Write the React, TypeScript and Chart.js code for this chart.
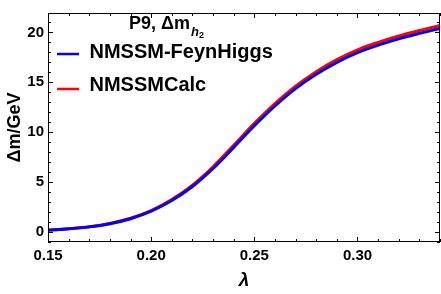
import React, { useEffect, useRef } from 'react';
import { Chart, registerables } from 'chart.js';

Chart.register(...registerables);

// ---- data ----
const lambdaValues = [0.15, 0.16, 0.17, 0.18, 0.19, 0.20, 0.21, 0.22, 0.23, 0.24, 0.25, 0.26, 0.27, 0.28, 0.29, 0.30, 0.31, 0.32, 0.33, 0.34];
const nmssmCalc = [0.15, 0.28, 0.48, 0.81, 1.33, 2.11, 3.21, 4.66, 6.51, 8.66, 10.86, 12.86, 14.61, 16.06, 17.26, 18.25, 19.0, 19.65, 20.2, 20.7];
const feynHiggs = [0.15, 0.28, 0.47, 0.79, 1.29, 2.04, 3.11, 4.52, 6.33, 8.45, 10.62, 12.61, 14.35, 15.79, 16.99, 17.97, 18.72, 19.36, 19.9, 20.4];
const xTickValues = [0.15, 0.2, 0.25, 0.3];
const yTickValues = [0, 5, 10, 15, 20];
const seriesNames = ['NMSSM-FeynHiggs', 'NMSSMCalc'];
const legendTitle = 'P9, Δm';
const legendTitleSub = 'h';
const legendTitleSubSub = '2';
const xTitle = 'λ';
const yTitle = 'Δm/GeV';

const FONT = '"Liberation Sans", Arial, Helvetica, sans-serif';
const BLUE = '#0000ff';
const RED = '#ff0000';

const framePlugin = {
  id: 'frameTicks',
  afterDatasetsDraw(chart: any) {
    const { ctx, chartArea: a, scales } = chart;
    const xs = scales.x;
    const ys = scales.y;
    ctx.save();
    ctx.strokeStyle = '#000';
    ctx.lineWidth = 1;
    // frame
    ctx.strokeRect(Math.round(a.left) + 0.5, Math.round(a.top) + 0.5, Math.round(a.right - a.left) - 1, Math.round(a.bottom - a.top) - 1);
    ctx.beginPath();
    // x ticks (bottom/top), inward
    for (let i = 0; i <= 19; i++) {
      const v = 0.15 + i * 0.01;
      const major = i % 5 === 0;
      const len = major ? 5 : 3;
      const px = Math.round(xs.getPixelForValue(v)) + 0.5;
      ctx.moveTo(px, a.bottom);
      ctx.lineTo(px, a.bottom - len);
      ctx.moveTo(px, a.top);
      ctx.lineTo(px, a.top + len);
    }
    for (let v = -1; v <= 21; v++) {
      const major = v % 5 === 0;
      const len = major ? 5 : 3;
      const py = Math.round(ys.getPixelForValue(v)) + 0.5;
      ctx.moveTo(a.left, py);
      ctx.lineTo(a.left + len, py);
      ctx.moveTo(a.right, py);
      ctx.lineTo(a.right - len, py);
    }
    ctx.stroke();

    // legend
    ctx.fillStyle = '#000';
    ctx.textBaseline = 'alphabetic';
    ctx.textAlign = 'left';
    ctx.font = `bold 18px ${FONT}`;
    ctx.fillText(legendTitle, 129, 29);
    const w = ctx.measureText(legendTitle).width;
    ctx.font = `italic bold 13px ${FONT}`;
    ctx.fillText(legendTitleSub, 129 + w + 1, 36);
    const w2 = ctx.measureText(legendTitleSub).width;
    ctx.font = `bold 9px ${FONT}`;
    ctx.fillText(legendTitleSubSub, 129 + w + 1 + w2, 38);

    const items = [
      { name: seriesNames[0], color: BLUE, lineY: 54, textY: 58 },
      { name: seriesNames[1], color: RED, lineY: 89, textY: 91 },
    ];
    for (const it of items) {
      ctx.strokeStyle = it.color;
      ctx.lineWidth = 2.5;
      ctx.beginPath();
      ctx.moveTo(57, it.lineY);
      ctx.lineTo(79, it.lineY);
      ctx.stroke();
      ctx.font = `bold 20px ${FONT}`;
      ctx.fillStyle = '#000';
      ctx.fillText(it.name, 89.5, it.textY);
    }
    ctx.restore();
  },
};

export default function App() {
  const canvasRef = useRef<HTMLCanvasElement | null>(null);

  useEffect(() => {
    const canvas = canvasRef.current;
    if (!canvas) return;
    const chart = new Chart(canvas, {
      type: 'line',
      data: {
        datasets: [
          {
            label: seriesNames[0],
            data: lambdaValues.map((x, i) => ({ x, y: feynHiggs[i] })),
            borderColor: BLUE,
            borderWidth: 3,
            pointRadius: 0,
            cubicInterpolationMode: 'monotone',
            fill: false,
          },
          {
            label: seriesNames[1],
            data: lambdaValues.map((x, i) => ({ x, y: nmssmCalc[i] })),
            borderColor: RED,
            borderWidth: 3,
            pointRadius: 0,
            cubicInterpolationMode: 'monotone',
            fill: false,
          },
        ],
      },
      options: {
        responsive: false,
        animation: false,
        events: [],
        layout: { padding: { top: 1, right: 1, left: 0, bottom: 0 } },
        plugins: {
          legend: { display: false },
          tooltip: { enabled: false },
          title: { display: false },
        },
        scales: {
          x: {
            type: 'linear',
            min: 0.15,
            max: 0.34,
            afterBuildTicks: (s: any) => {
              s.ticks = xTickValues.map((v) => ({ value: v }));
            },
            afterFit: (s: any) => {
              s.height = 52;
            },
            grid: { display: false, drawTicks: false },
            border: { display: false },
            ticks: {
              autoSkip: false,
              maxRotation: 0,
              padding: 5,
              color: '#000',
              font: { family: FONT, size: 15, weight: 'bold' },
              callback: (v: any) => Number(v).toFixed(2),
            },
            title: {
              display: true,
              text: xTitle,
              color: '#000',
              font: { family: FONT, size: 19, weight: 'bold', style: 'italic' },
              padding: { top: 0, bottom: 2 },
            },
          },
          y: {
            type: 'linear',
            min: -1.05,
            max: 21.95,
            afterBuildTicks: (s: any) => {
              s.ticks = yTickValues.map((v) => ({ value: v }));
            },
            afterFit: (s: any) => {
              s.width = 48;
            },
            grid: { display: false, drawTicks: false },
            border: { display: false },
            ticks: {
              padding: 4,
              color: '#000',
              font: { family: FONT, size: 15, weight: 'bold' },
              callback: (v: any) => String(v),
            },
            title: {
              display: true,
              text: yTitle,
              color: '#000',
              font: { family: FONT, size: 18, weight: 'bold' },
              padding: { top: 4, bottom: 0 },
            },
          },
        },
      },
      plugins: [framePlugin],
    } as any);
    return () => chart.destroy();
  }, []);

  return (
    <div style={{ position: 'fixed', left: 0, top: 0, width: 441, height: 294, background: '#fff' }}>
      <canvas ref={canvasRef} width={441} height={294} style={{ display: 'block' }} />
    </div>
  );
}
